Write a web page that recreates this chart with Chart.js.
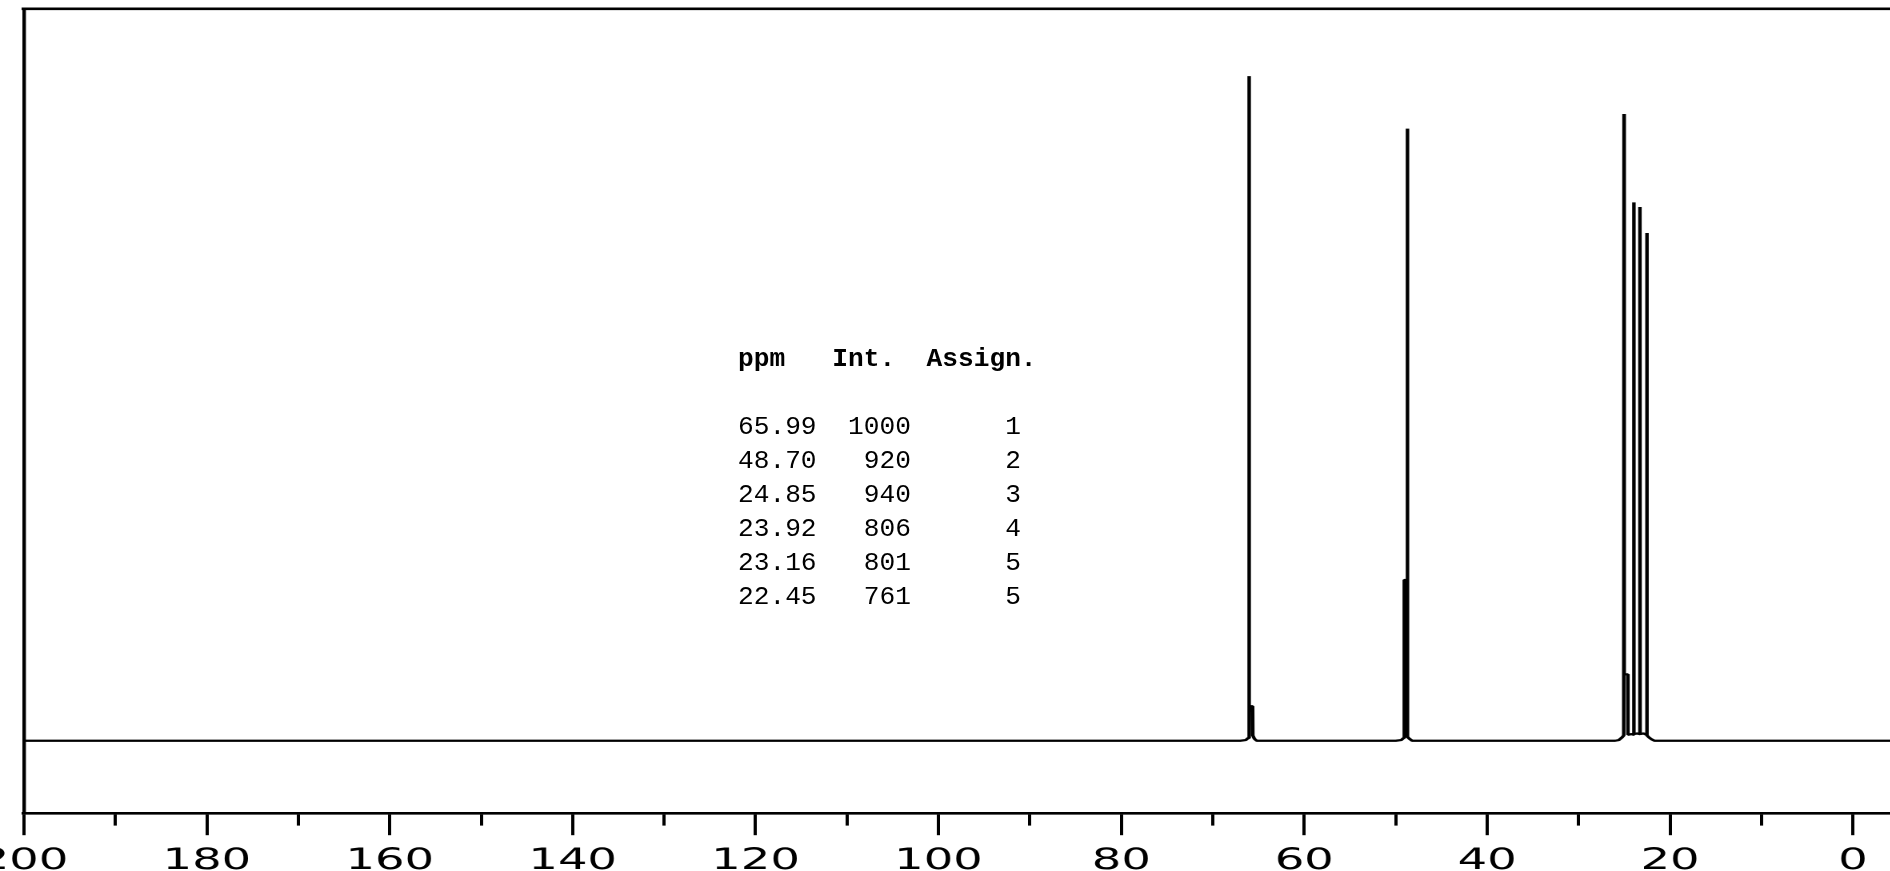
<!DOCTYPE html>
<html>
<head>
<meta charset="utf-8">
<title>13C NMR spectrum</title>
<script src="https://cdn.jsdelivr.net/npm/chart.js@4/dist/chart.umd.min.js"></script>
<style>
  html, body { margin: 0; padding: 0; background: #fff; }
  body { width: 1890px; height: 871px; overflow: hidden; position: relative; }
  /* the reference is stretched horizontally, so the canvas is too */
  #wrap { position: absolute; left: -96px; top: 0; width: 1280px; height: 890px; transform: scaleX(1.6); transform-origin: 0 0; }
  #peaks { position: absolute; left: 738px; top: 342px; margin: 0; font: 26.2px "Liberation Mono", monospace; line-height: 34px; color: #000; z-index: 2; }
  #peaks b { font-weight: bold; }
</style>
</head>
<body>
<div id="wrap"><canvas id="spectrum"></canvas></div>
<pre id="peaks"></pre>

<script>
// Spectrum trace (ppm, intensity; main peak = 1000)
const shiftPpm = [
  200, 67.0, 66.4, 66.15, 66.05, 66.02, 66.0, 65.64, 65.62, 65.45, 65.2,
  50.0, 49.4, 49.15, 49.07, 49.05, 48.74, 48.72, 48.70, 48.5, 48.2,
  26.0, 25.6, 25.25, 25.06, 25.03, 25.01, 24.62, 24.60, 24.2,
  23.98, 23.96, 23.94, 23.6, 23.31, 23.29, 23.27, 22.9, 22.55, 22.53, 22.51,
  22.3, 22.0, 21.7, -8
];
const intensity = [
  0, 0, 1, 4, 7, 1000, 52, 52, 8, 3, 0,
  0, 1, 4, 6, 242, 242, 921, 6, 3, 0,
  0, 1, 5, 8, 943, 100, 100, 9, 10,
  9, 810, 10, 11, 10, 803, 10, 11, 9, 764, 8,
  5, 2, 0, 0
];

// Peak table printed on the spectrum
const tablePpm = ['65.99', '48.70', '24.85', '23.92', '23.16', '22.45'];
const tableInt = [1000, 920, 940, 806, 801, 761];
const tableAssign = [1, 2, 3, 4, 5, 5];

// Axis
const ppmMin = -8;
const ppmMax = 200;
const tickStep = 10;
const labelStep = 20;
const yMin = -109;
const yMax = 1101;

Chart.defaults.font.family = '"DejaVu Sans", Verdana, sans-serif';
Chart.defaults.color = '#000';

const points = shiftPpm.map((p, i) => ({ x: p, y: intensity[i] }));

const ctx = document.getElementById('spectrum').getContext('2d');
new Chart(ctx, {
    type: 'scatter',
    data: {
        datasets: [{
            data: points,
            showLine: true,
            borderColor: '#000',
            borderWidth: 2.2,
            borderJoinStyle: 'bevel',
            pointRadius: 0,
            fill: false,
            tension: 0
        }]
    },
    options: {
        responsive: true,
        maintainAspectRatio: false,
        animation: false,
        devicePixelRatio: 2,
        layout: { padding: { left: 75, right: 16.2, top: 9, bottom: 2 } },
        plugins: { legend: { display: false }, tooltip: { enabled: false } },
        scales: {
            x: {
                type: 'linear',
                position: 'bottom',
                reverse: true,
                min: ppmMin,
                max: ppmMax,
                border: { display: true, color: '#000', width: 2.6 },
                grid: {
                    display: true,
                    drawOnChartArea: false,
                    drawTicks: true,
                    tickLength: 22,
                    tickWidth: 2,
                    tickColor: '#000',
                    // short ticks every 10, long ticks every 20
                    tickBorderDash: (c) => (c.tick && c.tick.value % labelStep !== 0) ? [11, 60] : []
                },
                ticks: {
                    stepSize: tickStep,
                    includeBounds: false,
                    autoSkip: false,
                    maxRotation: 0,
                    padding: 9,
                    color: '#000',
                    font: { size: 29 },
                    callback: (v) => v % labelStep === 0 ? String(v) : ''
                }
            },
            top: {
                type: 'linear',
                position: 'top',
                reverse: true,
                min: ppmMin,
                max: ppmMax,
                border: { display: true, color: '#000', width: 2.6 },
                grid: { display: true, drawOnChartArea: false, drawTicks: false },
                ticks: { display: false }
            },
            y: {
                type: 'linear',
                position: 'left',
                min: yMin,
                max: yMax,
                border: { display: true, color: '#000', width: 2.2 },
                grid: { display: true, drawOnChartArea: false, drawTicks: false },
                ticks: { display: false }
            }
        }
    }
});

// Peak table
const rows = tablePpm.map((p, i) =>
    p.padEnd(5) + String(tableInt[i]).padStart(6) + String(tableAssign[i]).padStart(7));
document.getElementById('peaks').innerHTML =
    '<b>ppm   Int.  Assign.</b>\n\n' + rows.join('\n');
</script>
</body>
</html>
